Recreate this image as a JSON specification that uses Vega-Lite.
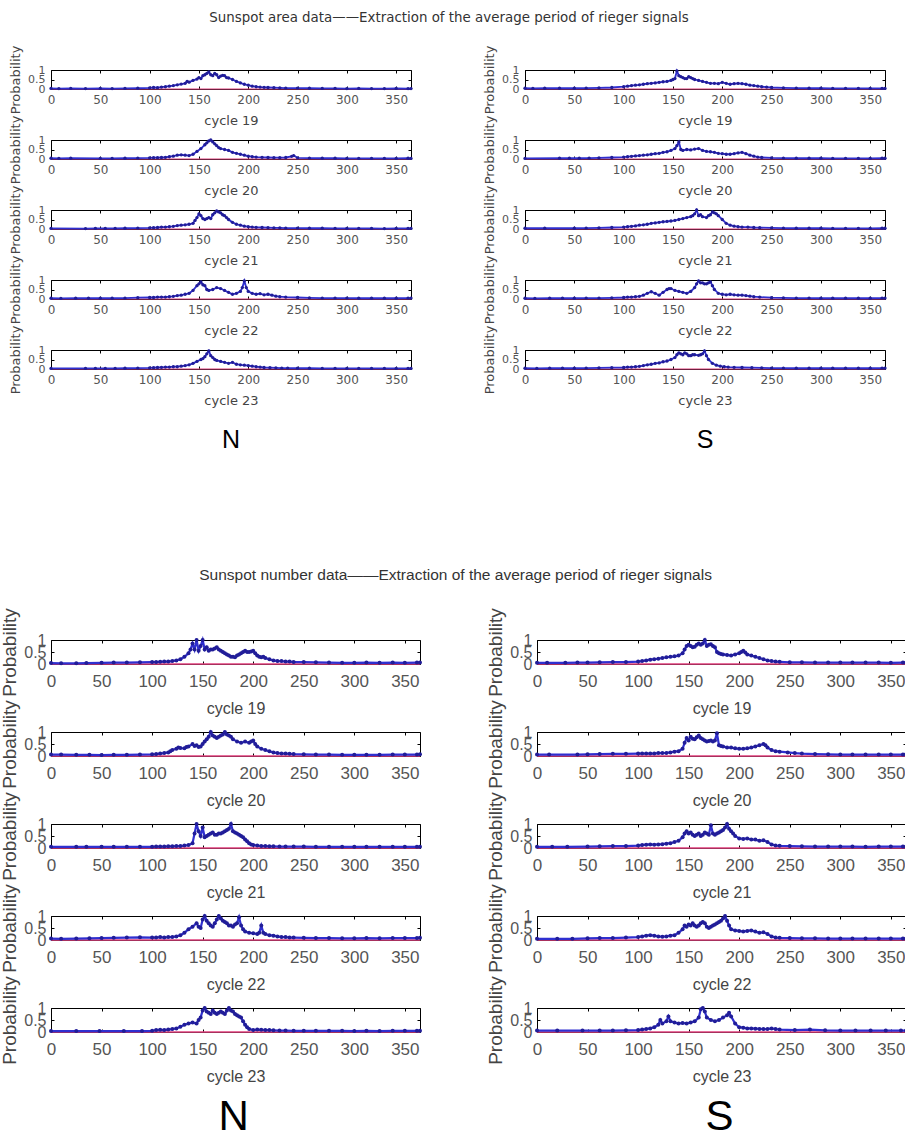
{
"$schema":"https://vega.github.io/schema/vega-lite/v6.json",
"background":"white",
"padding":{"left":0,"top":11,"right":0,"bottom":0},
"spacing":114,
"config":{
 "view":{"stroke":"#000","strokeWidth":1},
 "axis":{"grid":false,"domain":false,"tickSize":-3,"tickColor":"#000","labelFlush":false,"labelOverlap":false,"labelBound":false,"titleFontWeight":"normal","labelColor":"#555","titleColor":"#444","labelFont":"DejaVu Sans","titleFont":"DejaVu Sans","labelFontSize":12,"titleFontSize":13},
 "axisX":{"labelPadding":8,"titlePadding":9,"labelOverlap":false},
 "axisY":{"labelPadding":9,"titlePadding":5,"labelFontSize":11,"labelOverlap":false,"tickCount":5},
 "title":{"fontWeight":"normal","color":"#333"}
},
"datasets":{
"aN19":[{"x":0,"y":0.03},{"x":8,"y":0.02},{"x":20,"y":0.03},{"x":35,"y":0.02},{"x":50,"y":0.03},{"x":62,"y":0.02},{"x":75,"y":0.03},{"x":88,"y":0.04},{"x":100,"y":0.06},{"x":104,"y":0.08},{"x":108,"y":0.07},{"x":112,"y":0.1},{"x":116,"y":0.12},{"x":120,"y":0.15},{"x":124,"y":0.18},{"x":128,"y":0.22},{"x":132,"y":0.26},{"x":136,"y":0.3},{"x":138,"y":0.4},{"x":140,"y":0.36},{"x":144,"y":0.45},{"x":148,"y":0.52},{"x":150,"y":0.6},{"x":152,"y":0.55},{"x":154,"y":0.7},{"x":156,"y":0.75},{"x":158,"y":0.82},{"x":160,"y":0.9},{"x":162,"y":0.75},{"x":164,"y":0.7},{"x":166,"y":0.82},{"x":168,"y":0.75},{"x":170,"y":0.6},{"x":172,"y":0.68},{"x":174,"y":0.72},{"x":176,"y":0.7},{"x":178,"y":0.6},{"x":180,"y":0.58},{"x":184,"y":0.5},{"x":188,"y":0.4},{"x":192,"y":0.32},{"x":196,"y":0.25},{"x":200,"y":0.2},{"x":204,"y":0.15},{"x":208,"y":0.12},{"x":212,"y":0.1},{"x":216,"y":0.09},{"x":220,"y":0.08},{"x":226,"y":0.07},{"x":232,"y":0.06},{"x":238,"y":0.05},{"x":250,"y":0.05},{"x":262,"y":0.04},{"x":275,"y":0.03},{"x":288,"y":0.03},{"x":300,"y":0.02},{"x":312,"y":0.03},{"x":325,"y":0.02},{"x":338,"y":0.02},{"x":350,"y":0.03},{"x":362,"y":0.02},{"x":365,"y":0.02}],
"aN20":[{"x":0,"y":0.04},{"x":8,"y":0.03},{"x":20,"y":0.04},{"x":50,"y":0.03},{"x":62,"y":0.03},{"x":75,"y":0.04},{"x":88,"y":0.05},{"x":100,"y":0.06},{"x":104,"y":0.07},{"x":108,"y":0.07},{"x":112,"y":0.08},{"x":116,"y":0.09},{"x":120,"y":0.12},{"x":124,"y":0.15},{"x":128,"y":0.2},{"x":132,"y":0.22},{"x":136,"y":0.2},{"x":140,"y":0.18},{"x":144,"y":0.25},{"x":148,"y":0.4},{"x":152,"y":0.55},{"x":156,"y":0.75},{"x":158,"y":0.85},{"x":160,"y":0.95},{"x":162,"y":1.0},{"x":164,"y":0.9},{"x":166,"y":0.8},{"x":168,"y":0.7},{"x":170,"y":0.6},{"x":172,"y":0.55},{"x":176,"y":0.5},{"x":180,"y":0.45},{"x":184,"y":0.35},{"x":188,"y":0.3},{"x":192,"y":0.25},{"x":196,"y":0.2},{"x":200,"y":0.15},{"x":204,"y":0.12},{"x":208,"y":0.1},{"x":214,"y":0.09},{"x":220,"y":0.08},{"x":226,"y":0.07},{"x":232,"y":0.07},{"x":238,"y":0.08},{"x":244,"y":0.14},{"x":246,"y":0.18},{"x":250,"y":0.06},{"x":262,"y":0.05},{"x":275,"y":0.04},{"x":288,"y":0.04},{"x":300,"y":0.03},{"x":312,"y":0.03},{"x":325,"y":0.03},{"x":338,"y":0.03},{"x":350,"y":0.03},{"x":362,"y":0.04},{"x":365,"y":0.03}],
"aN21":[{"x":0,"y":0.03},{"x":35,"y":0.02},{"x":45,"y":0.03},{"x":55,"y":0.03},{"x":65,"y":0.03},{"x":75,"y":0.04},{"x":88,"y":0.05},{"x":100,"y":0.06},{"x":104,"y":0.07},{"x":108,"y":0.08},{"x":112,"y":0.1},{"x":116,"y":0.1},{"x":120,"y":0.12},{"x":124,"y":0.14},{"x":128,"y":0.18},{"x":132,"y":0.2},{"x":136,"y":0.22},{"x":140,"y":0.25},{"x":144,"y":0.3},{"x":146,"y":0.45},{"x":148,"y":0.6},{"x":150,"y":0.8},{"x":152,"y":0.7},{"x":154,"y":0.55},{"x":156,"y":0.5},{"x":158,"y":0.55},{"x":160,"y":0.6},{"x":162,"y":0.55},{"x":164,"y":0.75},{"x":166,"y":0.85},{"x":168,"y":0.95},{"x":170,"y":0.9},{"x":172,"y":0.85},{"x":174,"y":0.75},{"x":176,"y":0.7},{"x":178,"y":0.6},{"x":180,"y":0.5},{"x":184,"y":0.35},{"x":188,"y":0.25},{"x":192,"y":0.2},{"x":196,"y":0.15},{"x":200,"y":0.12},{"x":204,"y":0.1},{"x":208,"y":0.09},{"x":214,"y":0.08},{"x":220,"y":0.07},{"x":226,"y":0.06},{"x":232,"y":0.06},{"x":238,"y":0.05},{"x":250,"y":0.05},{"x":262,"y":0.04},{"x":275,"y":0.04},{"x":288,"y":0.03},{"x":300,"y":0.03},{"x":312,"y":0.03},{"x":325,"y":0.03},{"x":338,"y":0.02},{"x":350,"y":0.03},{"x":362,"y":0.03},{"x":365,"y":0.03}],
"aN22":[{"x":0,"y":0.04},{"x":10,"y":0.03},{"x":25,"y":0.04},{"x":38,"y":0.04},{"x":50,"y":0.04},{"x":62,"y":0.04},{"x":75,"y":0.05},{"x":88,"y":0.07},{"x":100,"y":0.08},{"x":104,"y":0.08},{"x":108,"y":0.1},{"x":112,"y":0.1},{"x":116,"y":0.1},{"x":120,"y":0.12},{"x":124,"y":0.14},{"x":128,"y":0.18},{"x":132,"y":0.2},{"x":136,"y":0.25},{"x":140,"y":0.3},{"x":144,"y":0.45},{"x":148,"y":0.7},{"x":150,"y":0.8},{"x":152,"y":0.9},{"x":154,"y":0.75},{"x":156,"y":0.7},{"x":158,"y":0.5},{"x":160,"y":0.45},{"x":164,"y":0.5},{"x":168,"y":0.6},{"x":172,"y":0.55},{"x":176,"y":0.45},{"x":180,"y":0.35},{"x":184,"y":0.25},{"x":188,"y":0.3},{"x":192,"y":0.4},{"x":194,"y":0.6},{"x":196,"y":0.95},{"x":198,"y":0.6},{"x":200,"y":0.4},{"x":204,"y":0.3},{"x":208,"y":0.25},{"x":212,"y":0.28},{"x":216,"y":0.22},{"x":220,"y":0.25},{"x":224,"y":0.2},{"x":228,"y":0.15},{"x":232,"y":0.12},{"x":238,"y":0.1},{"x":250,"y":0.08},{"x":262,"y":0.06},{"x":275,"y":0.05},{"x":288,"y":0.05},{"x":300,"y":0.05},{"x":312,"y":0.04},{"x":325,"y":0.04},{"x":338,"y":0.04},{"x":350,"y":0.04},{"x":362,"y":0.05},{"x":365,"y":0.05}],
"aN23":[{"x":0,"y":0.03},{"x":35,"y":0.03},{"x":45,"y":0.03},{"x":55,"y":0.03},{"x":65,"y":0.03},{"x":75,"y":0.04},{"x":88,"y":0.05},{"x":100,"y":0.06},{"x":104,"y":0.07},{"x":108,"y":0.08},{"x":112,"y":0.09},{"x":116,"y":0.1},{"x":120,"y":0.1},{"x":124,"y":0.12},{"x":128,"y":0.12},{"x":132,"y":0.15},{"x":136,"y":0.18},{"x":140,"y":0.22},{"x":144,"y":0.3},{"x":148,"y":0.4},{"x":152,"y":0.5},{"x":154,"y":0.55},{"x":156,"y":0.65},{"x":158,"y":0.8},{"x":160,"y":0.95},{"x":162,"y":0.7},{"x":164,"y":0.6},{"x":166,"y":0.5},{"x":168,"y":0.45},{"x":172,"y":0.4},{"x":176,"y":0.35},{"x":180,"y":0.3},{"x":184,"y":0.35},{"x":188,"y":0.25},{"x":192,"y":0.22},{"x":196,"y":0.2},{"x":200,"y":0.18},{"x":204,"y":0.15},{"x":208,"y":0.12},{"x":212,"y":0.1},{"x":216,"y":0.08},{"x":222,"y":0.07},{"x":228,"y":0.06},{"x":234,"y":0.05},{"x":240,"y":0.05},{"x":250,"y":0.04},{"x":262,"y":0.04},{"x":275,"y":0.03},{"x":288,"y":0.03},{"x":300,"y":0.03},{"x":312,"y":0.03},{"x":325,"y":0.03},{"x":338,"y":0.03},{"x":350,"y":0.03},{"x":362,"y":0.03},{"x":365,"y":0.03}],
"aS19":[{"x":0,"y":0.04},{"x":8,"y":0.03},{"x":20,"y":0.04},{"x":35,"y":0.04},{"x":50,"y":0.04},{"x":62,"y":0.05},{"x":75,"y":0.06},{"x":88,"y":0.08},{"x":100,"y":0.12},{"x":104,"y":0.15},{"x":108,"y":0.18},{"x":112,"y":0.2},{"x":116,"y":0.22},{"x":120,"y":0.25},{"x":124,"y":0.28},{"x":128,"y":0.3},{"x":132,"y":0.32},{"x":136,"y":0.35},{"x":140,"y":0.38},{"x":144,"y":0.4},{"x":148,"y":0.45},{"x":150,"y":0.5},{"x":152,"y":0.55},{"x":154,"y":0.95},{"x":156,"y":0.7},{"x":158,"y":0.65},{"x":160,"y":0.6},{"x":162,"y":0.55},{"x":164,"y":0.55},{"x":166,"y":0.65},{"x":168,"y":0.6},{"x":170,"y":0.55},{"x":172,"y":0.5},{"x":176,"y":0.45},{"x":180,"y":0.4},{"x":184,"y":0.35},{"x":188,"y":0.3},{"x":192,"y":0.3},{"x":196,"y":0.28},{"x":200,"y":0.35},{"x":204,"y":0.3},{"x":208,"y":0.25},{"x":212,"y":0.28},{"x":216,"y":0.3},{"x":220,"y":0.28},{"x":224,"y":0.25},{"x":228,"y":0.2},{"x":232,"y":0.18},{"x":236,"y":0.15},{"x":240,"y":0.12},{"x":245,"y":0.1},{"x":250,"y":0.08},{"x":262,"y":0.06},{"x":275,"y":0.05},{"x":288,"y":0.04},{"x":300,"y":0.04},{"x":312,"y":0.03},{"x":325,"y":0.03},{"x":338,"y":0.03},{"x":350,"y":0.03},{"x":362,"y":0.03},{"x":365,"y":0.03}],
"aS20":[{"x":0,"y":0.03},{"x":35,"y":0.04},{"x":45,"y":0.04},{"x":55,"y":0.04},{"x":65,"y":0.05},{"x":75,"y":0.06},{"x":88,"y":0.08},{"x":100,"y":0.1},{"x":104,"y":0.12},{"x":108,"y":0.14},{"x":112,"y":0.16},{"x":116,"y":0.18},{"x":120,"y":0.2},{"x":124,"y":0.22},{"x":128,"y":0.25},{"x":132,"y":0.28},{"x":136,"y":0.3},{"x":140,"y":0.35},{"x":144,"y":0.38},{"x":148,"y":0.45},{"x":152,"y":0.55},{"x":154,"y":0.7},{"x":156,"y":0.9},{"x":158,"y":0.5},{"x":160,"y":0.45},{"x":164,"y":0.5},{"x":168,"y":0.48},{"x":172,"y":0.52},{"x":176,"y":0.55},{"x":180,"y":0.45},{"x":184,"y":0.4},{"x":188,"y":0.38},{"x":192,"y":0.35},{"x":196,"y":0.3},{"x":200,"y":0.28},{"x":204,"y":0.25},{"x":208,"y":0.25},{"x":212,"y":0.28},{"x":216,"y":0.32},{"x":220,"y":0.35},{"x":224,"y":0.28},{"x":228,"y":0.2},{"x":232,"y":0.15},{"x":236,"y":0.1},{"x":240,"y":0.08},{"x":250,"y":0.06},{"x":262,"y":0.05},{"x":275,"y":0.04},{"x":288,"y":0.04},{"x":300,"y":0.04},{"x":312,"y":0.03},{"x":325,"y":0.03},{"x":338,"y":0.03},{"x":350,"y":0.03},{"x":362,"y":0.04},{"x":365,"y":0.04}],
"aS21":[{"x":0,"y":0.04},{"x":20,"y":0.04},{"x":50,"y":0.04},{"x":62,"y":0.05},{"x":75,"y":0.06},{"x":88,"y":0.08},{"x":100,"y":0.1},{"x":104,"y":0.12},{"x":108,"y":0.14},{"x":112,"y":0.16},{"x":116,"y":0.2},{"x":120,"y":0.22},{"x":124,"y":0.25},{"x":128,"y":0.3},{"x":132,"y":0.32},{"x":136,"y":0.35},{"x":140,"y":0.38},{"x":144,"y":0.4},{"x":148,"y":0.42},{"x":152,"y":0.45},{"x":156,"y":0.5},{"x":160,"y":0.55},{"x":164,"y":0.6},{"x":168,"y":0.65},{"x":170,"y":0.7},{"x":172,"y":0.8},{"x":174,"y":1.0},{"x":176,"y":0.7},{"x":178,"y":0.75},{"x":180,"y":0.65},{"x":184,"y":0.6},{"x":186,"y":0.7},{"x":188,"y":0.75},{"x":190,"y":0.9},{"x":192,"y":0.85},{"x":194,"y":0.8},{"x":196,"y":0.7},{"x":200,"y":0.5},{"x":204,"y":0.3},{"x":208,"y":0.2},{"x":212,"y":0.15},{"x":216,"y":0.12},{"x":220,"y":0.1},{"x":226,"y":0.1},{"x":232,"y":0.08},{"x":238,"y":0.07},{"x":250,"y":0.06},{"x":262,"y":0.05},{"x":275,"y":0.04},{"x":288,"y":0.04},{"x":300,"y":0.04},{"x":312,"y":0.03},{"x":325,"y":0.03},{"x":338,"y":0.03},{"x":350,"y":0.03},{"x":362,"y":0.04},{"x":365,"y":0.04}],
"aS22":[{"x":0,"y":0.04},{"x":10,"y":0.03},{"x":25,"y":0.04},{"x":38,"y":0.04},{"x":50,"y":0.04},{"x":62,"y":0.05},{"x":75,"y":0.05},{"x":88,"y":0.06},{"x":100,"y":0.08},{"x":104,"y":0.1},{"x":108,"y":0.1},{"x":112,"y":0.12},{"x":116,"y":0.14},{"x":120,"y":0.2},{"x":124,"y":0.3},{"x":128,"y":0.38},{"x":132,"y":0.3},{"x":136,"y":0.2},{"x":140,"y":0.35},{"x":144,"y":0.5},{"x":146,"y":0.55},{"x":148,"y":0.55},{"x":152,"y":0.45},{"x":156,"y":0.4},{"x":160,"y":0.35},{"x":164,"y":0.3},{"x":168,"y":0.4},{"x":172,"y":0.6},{"x":174,"y":0.8},{"x":176,"y":0.95},{"x":178,"y":0.85},{"x":180,"y":0.85},{"x":182,"y":0.8},{"x":184,"y":0.8},{"x":186,"y":0.85},{"x":188,"y":0.9},{"x":190,"y":0.7},{"x":192,"y":0.5},{"x":196,"y":0.3},{"x":200,"y":0.25},{"x":204,"y":0.22},{"x":208,"y":0.25},{"x":212,"y":0.22},{"x":216,"y":0.2},{"x":220,"y":0.2},{"x":224,"y":0.18},{"x":228,"y":0.15},{"x":232,"y":0.12},{"x":238,"y":0.1},{"x":250,"y":0.07},{"x":262,"y":0.06},{"x":275,"y":0.05},{"x":288,"y":0.05},{"x":300,"y":0.04},{"x":312,"y":0.04},{"x":325,"y":0.04},{"x":338,"y":0.04},{"x":350,"y":0.04},{"x":362,"y":0.05},{"x":365,"y":0.05}],
"aS23":[{"x":0,"y":0.04},{"x":12,"y":0.03},{"x":25,"y":0.04},{"x":38,"y":0.04},{"x":50,"y":0.04},{"x":62,"y":0.05},{"x":75,"y":0.06},{"x":88,"y":0.07},{"x":100,"y":0.08},{"x":104,"y":0.1},{"x":108,"y":0.1},{"x":112,"y":0.12},{"x":116,"y":0.14},{"x":120,"y":0.18},{"x":124,"y":0.22},{"x":128,"y":0.25},{"x":132,"y":0.3},{"x":136,"y":0.32},{"x":140,"y":0.38},{"x":144,"y":0.42},{"x":148,"y":0.5},{"x":152,"y":0.6},{"x":154,"y":0.75},{"x":156,"y":0.85},{"x":158,"y":0.8},{"x":160,"y":0.75},{"x":162,"y":0.85},{"x":164,"y":0.8},{"x":166,"y":0.7},{"x":168,"y":0.7},{"x":170,"y":0.75},{"x":172,"y":0.75},{"x":176,"y":0.72},{"x":178,"y":0.75},{"x":180,"y":0.8},{"x":182,"y":0.95},{"x":184,"y":0.7},{"x":186,"y":0.5},{"x":190,"y":0.3},{"x":194,"y":0.2},{"x":198,"y":0.15},{"x":202,"y":0.12},{"x":206,"y":0.1},{"x":212,"y":0.09},{"x":220,"y":0.08},{"x":230,"y":0.07},{"x":240,"y":0.06},{"x":250,"y":0.05},{"x":262,"y":0.05},{"x":275,"y":0.04},{"x":288,"y":0.04},{"x":300,"y":0.04},{"x":312,"y":0.04},{"x":325,"y":0.04},{"x":338,"y":0.04},{"x":350,"y":0.04},{"x":362,"y":0.05},{"x":365,"y":0.05}],
"nN19":[{"x":0,"y":0.04},{"x":10,"y":0.03},{"x":25,"y":0.03},{"x":35,"y":0.04},{"x":50,"y":0.05},{"x":62,"y":0.06},{"x":75,"y":0.06},{"x":88,"y":0.07},{"x":100,"y":0.08},{"x":104,"y":0.08},{"x":108,"y":0.09},{"x":112,"y":0.1},{"x":116,"y":0.1},{"x":120,"y":0.12},{"x":124,"y":0.15},{"x":128,"y":0.2},{"x":132,"y":0.3},{"x":136,"y":0.45},{"x":138,"y":0.6},{"x":140,"y":0.85},{"x":142,"y":0.6},{"x":144,"y":1.0},{"x":146,"y":0.55},{"x":148,"y":0.75},{"x":150,"y":1.0},{"x":152,"y":0.6},{"x":154,"y":0.7},{"x":156,"y":0.55},{"x":158,"y":0.6},{"x":160,"y":0.6},{"x":162,"y":0.65},{"x":164,"y":0.7},{"x":166,"y":0.6},{"x":168,"y":0.55},{"x":170,"y":0.5},{"x":172,"y":0.45},{"x":174,"y":0.4},{"x":176,"y":0.35},{"x":178,"y":0.3},{"x":180,"y":0.3},{"x":182,"y":0.28},{"x":184,"y":0.35},{"x":186,"y":0.4},{"x":188,"y":0.45},{"x":190,"y":0.5},{"x":192,"y":0.55},{"x":194,"y":0.5},{"x":196,"y":0.5},{"x":198,"y":0.52},{"x":200,"y":0.55},{"x":202,"y":0.45},{"x":204,"y":0.35},{"x":206,"y":0.3},{"x":208,"y":0.28},{"x":210,"y":0.3},{"x":212,"y":0.25},{"x":216,"y":0.2},{"x":220,"y":0.15},{"x":224,"y":0.12},{"x":228,"y":0.12},{"x":232,"y":0.1},{"x":236,"y":0.1},{"x":240,"y":0.08},{"x":250,"y":0.08},{"x":262,"y":0.07},{"x":275,"y":0.06},{"x":288,"y":0.05},{"x":300,"y":0.05},{"x":312,"y":0.06},{"x":325,"y":0.05},{"x":338,"y":0.06},{"x":350,"y":0.05},{"x":362,"y":0.06},{"x":365,"y":0.06}],
"nN20":[{"x":0,"y":0.06},{"x":10,"y":0.06},{"x":25,"y":0.05},{"x":38,"y":0.05},{"x":50,"y":0.04},{"x":62,"y":0.05},{"x":75,"y":0.05},{"x":88,"y":0.06},{"x":100,"y":0.07},{"x":104,"y":0.08},{"x":108,"y":0.1},{"x":112,"y":0.12},{"x":116,"y":0.15},{"x":118,"y":0.2},{"x":120,"y":0.25},{"x":124,"y":0.3},{"x":126,"y":0.35},{"x":128,"y":0.33},{"x":132,"y":0.32},{"x":134,"y":0.38},{"x":136,"y":0.4},{"x":140,"y":0.5},{"x":142,"y":0.42},{"x":144,"y":0.45},{"x":146,"y":0.38},{"x":148,"y":0.4},{"x":150,"y":0.5},{"x":152,"y":0.6},{"x":154,"y":0.7},{"x":156,"y":0.8},{"x":158,"y":1.0},{"x":160,"y":0.85},{"x":162,"y":0.8},{"x":164,"y":0.75},{"x":166,"y":0.8},{"x":168,"y":0.85},{"x":170,"y":0.9},{"x":172,"y":1.0},{"x":174,"y":0.9},{"x":176,"y":0.85},{"x":178,"y":0.8},{"x":180,"y":0.7},{"x":184,"y":0.6},{"x":188,"y":0.55},{"x":192,"y":0.6},{"x":196,"y":0.55},{"x":198,"y":0.6},{"x":200,"y":0.65},{"x":202,"y":0.5},{"x":204,"y":0.4},{"x":208,"y":0.3},{"x":212,"y":0.25},{"x":216,"y":0.2},{"x":220,"y":0.15},{"x":224,"y":0.12},{"x":228,"y":0.1},{"x":232,"y":0.1},{"x":236,"y":0.09},{"x":240,"y":0.08},{"x":250,"y":0.07},{"x":262,"y":0.06},{"x":275,"y":0.06},{"x":288,"y":0.05},{"x":300,"y":0.05},{"x":312,"y":0.05},{"x":325,"y":0.05},{"x":338,"y":0.06},{"x":350,"y":0.06},{"x":362,"y":0.06},{"x":365,"y":0.07}],
"nN21":[{"x":0,"y":0.05},{"x":25,"y":0.05},{"x":35,"y":0.05},{"x":50,"y":0.05},{"x":62,"y":0.05},{"x":75,"y":0.05},{"x":88,"y":0.05},{"x":100,"y":0.05},{"x":104,"y":0.06},{"x":108,"y":0.06},{"x":112,"y":0.06},{"x":116,"y":0.07},{"x":120,"y":0.07},{"x":124,"y":0.08},{"x":128,"y":0.08},{"x":132,"y":0.1},{"x":136,"y":0.12},{"x":140,"y":0.2},{"x":142,"y":0.6},{"x":144,"y":1.0},{"x":146,"y":0.7},{"x":148,"y":0.5},{"x":150,"y":0.85},{"x":152,"y":0.45},{"x":154,"y":0.5},{"x":156,"y":0.55},{"x":158,"y":0.6},{"x":160,"y":0.65},{"x":162,"y":0.55},{"x":164,"y":0.55},{"x":166,"y":0.6},{"x":168,"y":0.6},{"x":170,"y":0.65},{"x":172,"y":0.7},{"x":174,"y":0.75},{"x":176,"y":0.8},{"x":178,"y":1.0},{"x":180,"y":0.7},{"x":182,"y":0.65},{"x":184,"y":0.6},{"x":186,"y":0.55},{"x":188,"y":0.5},{"x":190,"y":0.45},{"x":192,"y":0.35},{"x":194,"y":0.28},{"x":196,"y":0.2},{"x":198,"y":0.15},{"x":200,"y":0.12},{"x":204,"y":0.1},{"x":208,"y":0.08},{"x":212,"y":0.08},{"x":216,"y":0.07},{"x":220,"y":0.07},{"x":226,"y":0.06},{"x":232,"y":0.06},{"x":240,"y":0.06},{"x":250,"y":0.06},{"x":262,"y":0.05},{"x":275,"y":0.05},{"x":288,"y":0.05},{"x":300,"y":0.05},{"x":312,"y":0.05},{"x":325,"y":0.05},{"x":338,"y":0.05},{"x":350,"y":0.05},{"x":362,"y":0.05},{"x":365,"y":0.05}],
"nN22":[{"x":0,"y":0.06},{"x":10,"y":0.05},{"x":25,"y":0.06},{"x":38,"y":0.07},{"x":50,"y":0.08},{"x":62,"y":0.09},{"x":75,"y":0.1},{"x":88,"y":0.11},{"x":100,"y":0.1},{"x":104,"y":0.1},{"x":108,"y":0.12},{"x":112,"y":0.1},{"x":116,"y":0.12},{"x":120,"y":0.12},{"x":124,"y":0.15},{"x":128,"y":0.2},{"x":132,"y":0.3},{"x":136,"y":0.45},{"x":140,"y":0.55},{"x":144,"y":0.7},{"x":146,"y":0.55},{"x":148,"y":0.5},{"x":150,"y":0.85},{"x":152,"y":1.0},{"x":154,"y":0.8},{"x":156,"y":0.7},{"x":158,"y":0.6},{"x":160,"y":0.55},{"x":162,"y":0.7},{"x":164,"y":0.85},{"x":166,"y":1.0},{"x":168,"y":0.9},{"x":170,"y":0.8},{"x":172,"y":0.75},{"x":174,"y":0.7},{"x":176,"y":0.6},{"x":178,"y":0.6},{"x":180,"y":0.55},{"x":182,"y":0.65},{"x":184,"y":0.7},{"x":186,"y":0.95},{"x":188,"y":0.6},{"x":190,"y":0.45},{"x":192,"y":0.35},{"x":196,"y":0.3},{"x":200,"y":0.28},{"x":204,"y":0.25},{"x":206,"y":0.3},{"x":208,"y":0.6},{"x":210,"y":0.3},{"x":212,"y":0.25},{"x":216,"y":0.2},{"x":220,"y":0.18},{"x":224,"y":0.15},{"x":228,"y":0.12},{"x":232,"y":0.12},{"x":236,"y":0.1},{"x":240,"y":0.1},{"x":250,"y":0.09},{"x":262,"y":0.08},{"x":275,"y":0.08},{"x":288,"y":0.07},{"x":300,"y":0.07},{"x":312,"y":0.08},{"x":325,"y":0.07},{"x":338,"y":0.08},{"x":350,"y":0.08},{"x":362,"y":0.08},{"x":365,"y":0.09}],
"nN23":[{"x":0,"y":0.04},{"x":25,"y":0.04},{"x":48,"y":0.04},{"x":72,"y":0.04},{"x":90,"y":0.04},{"x":100,"y":0.05},{"x":104,"y":0.08},{"x":108,"y":0.09},{"x":112,"y":0.08},{"x":116,"y":0.1},{"x":120,"y":0.12},{"x":124,"y":0.15},{"x":128,"y":0.22},{"x":132,"y":0.3},{"x":136,"y":0.35},{"x":140,"y":0.4},{"x":144,"y":0.35},{"x":146,"y":0.5},{"x":148,"y":0.6},{"x":150,"y":0.9},{"x":152,"y":1.0},{"x":154,"y":0.85},{"x":156,"y":0.8},{"x":158,"y":0.75},{"x":160,"y":0.9},{"x":162,"y":0.8},{"x":164,"y":0.75},{"x":166,"y":0.8},{"x":168,"y":0.85},{"x":170,"y":0.8},{"x":172,"y":0.75},{"x":174,"y":0.9},{"x":176,"y":1.0},{"x":178,"y":0.9},{"x":180,"y":0.85},{"x":182,"y":0.75},{"x":184,"y":0.7},{"x":186,"y":0.65},{"x":188,"y":0.6},{"x":190,"y":0.45},{"x":192,"y":0.3},{"x":194,"y":0.2},{"x":196,"y":0.12},{"x":200,"y":0.08},{"x":204,"y":0.1},{"x":208,"y":0.09},{"x":212,"y":0.08},{"x":216,"y":0.08},{"x":220,"y":0.07},{"x":226,"y":0.06},{"x":232,"y":0.06},{"x":240,"y":0.05},{"x":250,"y":0.05},{"x":262,"y":0.05},{"x":275,"y":0.05},{"x":288,"y":0.05},{"x":300,"y":0.04},{"x":312,"y":0.05},{"x":325,"y":0.04},{"x":338,"y":0.05},{"x":350,"y":0.05},{"x":362,"y":0.05},{"x":365,"y":0.05}],
"nS19":[{"x":0,"y":0.05},{"x":10,"y":0.05},{"x":28,"y":0.05},{"x":40,"y":0.06},{"x":50,"y":0.06},{"x":62,"y":0.07},{"x":75,"y":0.08},{"x":88,"y":0.08},{"x":100,"y":0.1},{"x":104,"y":0.12},{"x":108,"y":0.15},{"x":112,"y":0.18},{"x":116,"y":0.2},{"x":120,"y":0.22},{"x":124,"y":0.25},{"x":128,"y":0.28},{"x":132,"y":0.3},{"x":136,"y":0.32},{"x":140,"y":0.35},{"x":144,"y":0.45},{"x":146,"y":0.6},{"x":148,"y":0.75},{"x":150,"y":0.8},{"x":152,"y":0.75},{"x":154,"y":0.7},{"x":156,"y":0.72},{"x":158,"y":0.8},{"x":160,"y":0.85},{"x":162,"y":0.8},{"x":164,"y":0.85},{"x":166,"y":1.0},{"x":168,"y":0.75},{"x":170,"y":0.8},{"x":172,"y":0.82},{"x":174,"y":0.75},{"x":176,"y":0.7},{"x":178,"y":0.5},{"x":180,"y":0.45},{"x":182,"y":0.42},{"x":184,"y":0.4},{"x":188,"y":0.38},{"x":192,"y":0.35},{"x":196,"y":0.4},{"x":200,"y":0.45},{"x":202,"y":0.5},{"x":204,"y":0.55},{"x":206,"y":0.48},{"x":208,"y":0.4},{"x":212,"y":0.35},{"x":216,"y":0.3},{"x":220,"y":0.25},{"x":224,"y":0.2},{"x":228,"y":0.15},{"x":232,"y":0.12},{"x":236,"y":0.1},{"x":240,"y":0.09},{"x":250,"y":0.07},{"x":262,"y":0.07},{"x":275,"y":0.06},{"x":288,"y":0.06},{"x":300,"y":0.06},{"x":312,"y":0.06},{"x":325,"y":0.06},{"x":338,"y":0.06},{"x":350,"y":0.05},{"x":362,"y":0.06},{"x":365,"y":0.06}],
"nS20":[{"x":0,"y":0.06},{"x":12,"y":0.06},{"x":40,"y":0.06},{"x":50,"y":0.07},{"x":62,"y":0.08},{"x":75,"y":0.09},{"x":88,"y":0.09},{"x":100,"y":0.1},{"x":104,"y":0.1},{"x":108,"y":0.1},{"x":112,"y":0.1},{"x":116,"y":0.1},{"x":120,"y":0.12},{"x":124,"y":0.12},{"x":128,"y":0.13},{"x":132,"y":0.15},{"x":136,"y":0.18},{"x":140,"y":0.2},{"x":144,"y":0.3},{"x":146,"y":0.55},{"x":148,"y":0.75},{"x":150,"y":0.65},{"x":152,"y":0.8},{"x":154,"y":0.72},{"x":156,"y":0.7},{"x":158,"y":0.78},{"x":160,"y":0.85},{"x":162,"y":0.75},{"x":164,"y":0.7},{"x":166,"y":0.65},{"x":168,"y":0.6},{"x":170,"y":0.62},{"x":172,"y":0.65},{"x":174,"y":0.6},{"x":176,"y":0.65},{"x":178,"y":0.95},{"x":180,"y":0.45},{"x":182,"y":0.42},{"x":184,"y":0.4},{"x":188,"y":0.35},{"x":192,"y":0.35},{"x":196,"y":0.32},{"x":200,"y":0.3},{"x":204,"y":0.3},{"x":208,"y":0.32},{"x":212,"y":0.35},{"x":216,"y":0.4},{"x":220,"y":0.45},{"x":224,"y":0.5},{"x":226,"y":0.45},{"x":228,"y":0.35},{"x":232,"y":0.25},{"x":236,"y":0.2},{"x":240,"y":0.18},{"x":248,"y":0.15},{"x":255,"y":0.12},{"x":262,"y":0.1},{"x":275,"y":0.08},{"x":288,"y":0.07},{"x":300,"y":0.06},{"x":312,"y":0.06},{"x":325,"y":0.06},{"x":338,"y":0.06},{"x":350,"y":0.06},{"x":362,"y":0.06},{"x":365,"y":0.07}],
"nS21":[{"x":0,"y":0.05},{"x":15,"y":0.05},{"x":30,"y":0.05},{"x":50,"y":0.06},{"x":62,"y":0.07},{"x":75,"y":0.08},{"x":88,"y":0.08},{"x":100,"y":0.1},{"x":104,"y":0.12},{"x":108,"y":0.14},{"x":112,"y":0.15},{"x":116,"y":0.14},{"x":120,"y":0.15},{"x":124,"y":0.16},{"x":128,"y":0.18},{"x":132,"y":0.2},{"x":136,"y":0.25},{"x":140,"y":0.3},{"x":144,"y":0.45},{"x":146,"y":0.6},{"x":148,"y":0.7},{"x":150,"y":0.6},{"x":152,"y":0.65},{"x":154,"y":0.55},{"x":156,"y":0.5},{"x":158,"y":0.55},{"x":160,"y":0.6},{"x":162,"y":0.5},{"x":164,"y":0.55},{"x":166,"y":0.65},{"x":168,"y":0.6},{"x":170,"y":0.55},{"x":172,"y":0.95},{"x":174,"y":0.6},{"x":176,"y":0.55},{"x":178,"y":0.6},{"x":180,"y":0.65},{"x":182,"y":0.7},{"x":184,"y":0.75},{"x":186,"y":0.85},{"x":188,"y":1.0},{"x":190,"y":0.8},{"x":192,"y":0.7},{"x":194,"y":0.6},{"x":196,"y":0.5},{"x":200,"y":0.4},{"x":204,"y":0.38},{"x":208,"y":0.4},{"x":212,"y":0.35},{"x":216,"y":0.35},{"x":220,"y":0.3},{"x":224,"y":0.32},{"x":228,"y":0.25},{"x":232,"y":0.15},{"x":236,"y":0.1},{"x":240,"y":0.09},{"x":250,"y":0.08},{"x":262,"y":0.07},{"x":275,"y":0.06},{"x":288,"y":0.06},{"x":300,"y":0.06},{"x":312,"y":0.06},{"x":325,"y":0.05},{"x":338,"y":0.06},{"x":350,"y":0.06},{"x":362,"y":0.06},{"x":365,"y":0.06}],
"nS22":[{"x":0,"y":0.05},{"x":20,"y":0.05},{"x":35,"y":0.05},{"x":50,"y":0.07},{"x":62,"y":0.08},{"x":75,"y":0.08},{"x":88,"y":0.1},{"x":100,"y":0.12},{"x":104,"y":0.15},{"x":108,"y":0.18},{"x":112,"y":0.2},{"x":116,"y":0.18},{"x":120,"y":0.15},{"x":124,"y":0.14},{"x":128,"y":0.15},{"x":132,"y":0.18},{"x":136,"y":0.2},{"x":140,"y":0.3},{"x":144,"y":0.45},{"x":146,"y":0.6},{"x":148,"y":0.55},{"x":150,"y":0.65},{"x":152,"y":0.6},{"x":154,"y":0.7},{"x":156,"y":0.6},{"x":158,"y":0.55},{"x":160,"y":0.6},{"x":162,"y":0.7},{"x":164,"y":0.75},{"x":166,"y":0.7},{"x":168,"y":0.55},{"x":170,"y":0.5},{"x":172,"y":0.55},{"x":174,"y":0.6},{"x":176,"y":0.65},{"x":178,"y":0.7},{"x":180,"y":0.75},{"x":182,"y":0.8},{"x":184,"y":0.9},{"x":186,"y":1.0},{"x":188,"y":0.8},{"x":190,"y":0.6},{"x":192,"y":0.45},{"x":196,"y":0.4},{"x":200,"y":0.38},{"x":204,"y":0.35},{"x":208,"y":0.38},{"x":212,"y":0.4},{"x":216,"y":0.35},{"x":220,"y":0.3},{"x":224,"y":0.32},{"x":228,"y":0.25},{"x":232,"y":0.15},{"x":236,"y":0.1},{"x":240,"y":0.09},{"x":250,"y":0.08},{"x":262,"y":0.07},{"x":275,"y":0.07},{"x":288,"y":0.06},{"x":300,"y":0.06},{"x":312,"y":0.06},{"x":325,"y":0.06},{"x":338,"y":0.06},{"x":350,"y":0.06},{"x":362,"y":0.06},{"x":365,"y":0.06}],
"nS23":[{"x":0,"y":0.06},{"x":20,"y":0.06},{"x":45,"y":0.06},{"x":62,"y":0.06},{"x":75,"y":0.06},{"x":88,"y":0.07},{"x":100,"y":0.08},{"x":104,"y":0.1},{"x":108,"y":0.12},{"x":112,"y":0.15},{"x":116,"y":0.2},{"x":120,"y":0.3},{"x":122,"y":0.5},{"x":124,"y":0.35},{"x":128,"y":0.45},{"x":130,"y":0.65},{"x":132,"y":0.45},{"x":136,"y":0.4},{"x":140,"y":0.35},{"x":144,"y":0.38},{"x":148,"y":0.35},{"x":152,"y":0.4},{"x":156,"y":0.45},{"x":160,"y":0.6},{"x":162,"y":0.95},{"x":164,"y":1.0},{"x":166,"y":0.85},{"x":168,"y":0.6},{"x":172,"y":0.5},{"x":176,"y":0.45},{"x":180,"y":0.5},{"x":184,"y":0.6},{"x":188,"y":0.7},{"x":190,"y":0.8},{"x":192,"y":0.65},{"x":196,"y":0.35},{"x":200,"y":0.2},{"x":204,"y":0.18},{"x":208,"y":0.15},{"x":212,"y":0.15},{"x":216,"y":0.14},{"x":220,"y":0.13},{"x":224,"y":0.12},{"x":228,"y":0.12},{"x":232,"y":0.15},{"x":236,"y":0.12},{"x":240,"y":0.1},{"x":255,"y":0.08},{"x":270,"y":0.1},{"x":285,"y":0.07},{"x":300,"y":0.06},{"x":315,"y":0.06},{"x":330,"y":0.06},{"x":345,"y":0.06},{"x":360,"y":0.06},{"x":365,"y":0.06}]
},
"vconcat":[
{
 "title":{"text":"Sunspot area data——Extraction of the average period of rieger signals","font":"DejaVu Sans","fontSize":13.4,"anchor":"middle","offset":20},
 "spacing":67,
 "hconcat":[
  {"bounds":"flush","spacing":51,"title":{"text":"N","orient":"bottom","anchor":"middle","dx":19,"font":"Liberation Sans","fontSize":25,"color":"#000","offset":20},
   "vconcat":[
    {"width":360,"height":19,"data":{"name":"aN19"},"resolve":{"axis":{"x":"independent","y":"independent"}},"layer":[{"data":{"values":[{"v":0}]},"mark":{"type":"rule","color":"#e0407c","strokeWidth":1.2},"encoding":{"y":{"field":"v","type":"quantitative","axis":null}}},{"mark":{"type":"line","color":"#2f2fd0","strokeWidth":1.8,"point":{"filled":true,"size":11,"color":"#211d98"}},"encoding":{"x":{"field":"x","type":"quantitative","scale":{"domain":[0,365],"nice":false},"axis":{"title":"cycle 19","values":[0,50,100,150,200,250,300,350],"labelOverlap":false}},"y":{"field":"y","type":"quantitative","scale":{"domain":[0,1],"nice":false},"axis":{"title":"Probability","values":[0,0.5,1],"tickCount":5,"format":"~g","labelOverlap":false}}}},{"mark":{"type":"point","opacity":0},"encoding":{"x":{"field":"x","type":"quantitative","axis":{"orient":"top","labels":false,"title":null,"values":[0,50,100,150,200,250,300,350]}},"y":{"field":"y","type":"quantitative","axis":{"orient":"right","labels":false,"title":null,"values":[0,0.5,1],"tickCount":5}}}}]},
    {"width":360,"height":19,"data":{"name":"aN20"},"resolve":{"axis":{"x":"independent","y":"independent"}},"layer":[{"data":{"values":[{"v":0}]},"mark":{"type":"rule","color":"#e0407c","strokeWidth":1.2},"encoding":{"y":{"field":"v","type":"quantitative","axis":null}}},{"mark":{"type":"line","color":"#2f2fd0","strokeWidth":1.8,"point":{"filled":true,"size":11,"color":"#211d98"}},"encoding":{"x":{"field":"x","type":"quantitative","scale":{"domain":[0,365],"nice":false},"axis":{"title":"cycle 20","values":[0,50,100,150,200,250,300,350],"labelOverlap":false}},"y":{"field":"y","type":"quantitative","scale":{"domain":[0,1],"nice":false},"axis":{"title":"Probability","values":[0,0.5,1],"tickCount":5,"format":"~g","labelOverlap":false}}}},{"mark":{"type":"point","opacity":0},"encoding":{"x":{"field":"x","type":"quantitative","axis":{"orient":"top","labels":false,"title":null,"values":[0,50,100,150,200,250,300,350]}},"y":{"field":"y","type":"quantitative","axis":{"orient":"right","labels":false,"title":null,"values":[0,0.5,1],"tickCount":5}}}}]},
    {"width":360,"height":19,"data":{"name":"aN21"},"resolve":{"axis":{"x":"independent","y":"independent"}},"layer":[{"data":{"values":[{"v":0}]},"mark":{"type":"rule","color":"#e0407c","strokeWidth":1.2},"encoding":{"y":{"field":"v","type":"quantitative","axis":null}}},{"mark":{"type":"line","color":"#2f2fd0","strokeWidth":1.8,"point":{"filled":true,"size":11,"color":"#211d98"}},"encoding":{"x":{"field":"x","type":"quantitative","scale":{"domain":[0,365],"nice":false},"axis":{"title":"cycle 21","values":[0,50,100,150,200,250,300,350],"labelOverlap":false}},"y":{"field":"y","type":"quantitative","scale":{"domain":[0,1],"nice":false},"axis":{"title":"Probability","values":[0,0.5,1],"tickCount":5,"format":"~g","labelOverlap":false}}}},{"mark":{"type":"point","opacity":0},"encoding":{"x":{"field":"x","type":"quantitative","axis":{"orient":"top","labels":false,"title":null,"values":[0,50,100,150,200,250,300,350]}},"y":{"field":"y","type":"quantitative","axis":{"orient":"right","labels":false,"title":null,"values":[0,0.5,1],"tickCount":5}}}}]},
    {"width":360,"height":19,"data":{"name":"aN22"},"resolve":{"axis":{"x":"independent","y":"independent"}},"layer":[{"data":{"values":[{"v":0}]},"mark":{"type":"rule","color":"#e0407c","strokeWidth":1.2},"encoding":{"y":{"field":"v","type":"quantitative","axis":null}}},{"mark":{"type":"line","color":"#2f2fd0","strokeWidth":1.8,"point":{"filled":true,"size":11,"color":"#211d98"}},"encoding":{"x":{"field":"x","type":"quantitative","scale":{"domain":[0,365],"nice":false},"axis":{"title":"cycle 22","values":[0,50,100,150,200,250,300,350],"labelOverlap":false}},"y":{"field":"y","type":"quantitative","scale":{"domain":[0,1],"nice":false},"axis":{"title":"Probability","values":[0,0.5,1],"tickCount":5,"format":"~g","labelOverlap":false}}}},{"mark":{"type":"point","opacity":0},"encoding":{"x":{"field":"x","type":"quantitative","axis":{"orient":"top","labels":false,"title":null,"values":[0,50,100,150,200,250,300,350]}},"y":{"field":"y","type":"quantitative","axis":{"orient":"right","labels":false,"title":null,"values":[0,0.5,1],"tickCount":5}}}}]},
    {"width":360,"height":19,"data":{"name":"aN23"},"resolve":{"axis":{"x":"independent","y":"independent"}},"layer":[{"data":{"values":[{"v":0}]},"mark":{"type":"rule","color":"#e0407c","strokeWidth":1.2},"encoding":{"y":{"field":"v","type":"quantitative","axis":null}}},{"mark":{"type":"line","color":"#2f2fd0","strokeWidth":1.8,"point":{"filled":true,"size":11,"color":"#211d98"}},"encoding":{"x":{"field":"x","type":"quantitative","scale":{"domain":[0,365],"nice":false},"axis":{"title":"cycle 23","values":[0,50,100,150,200,250,300,350],"labelOverlap":false}},"y":{"field":"y","type":"quantitative","scale":{"domain":[0,1],"nice":false},"axis":{"title":"Probability","values":[0,0.5,1],"tickCount":5,"format":"~g","labelOverlap":false}}}},{"mark":{"type":"point","opacity":0},"encoding":{"x":{"field":"x","type":"quantitative","axis":{"orient":"top","labels":false,"title":null,"values":[0,50,100,150,200,250,300,350]}},"y":{"field":"y","type":"quantitative","axis":{"orient":"right","labels":false,"title":null,"values":[0,0.5,1],"tickCount":5}}}}]}
   ]},
  {"bounds":"flush","spacing":51,"title":{"text":"S","orient":"bottom","anchor":"middle","dx":19,"font":"Liberation Sans","fontSize":25,"color":"#000","offset":20},
   "vconcat":[
    {"width":360,"height":19,"data":{"name":"aS19"},"resolve":{"axis":{"x":"independent","y":"independent"}},"layer":[{"data":{"values":[{"v":0}]},"mark":{"type":"rule","color":"#e0407c","strokeWidth":1.2},"encoding":{"y":{"field":"v","type":"quantitative","axis":null}}},{"mark":{"type":"line","color":"#2f2fd0","strokeWidth":1.8,"point":{"filled":true,"size":11,"color":"#211d98"}},"encoding":{"x":{"field":"x","type":"quantitative","scale":{"domain":[0,365],"nice":false},"axis":{"title":"cycle 19","values":[0,50,100,150,200,250,300,350],"labelOverlap":false}},"y":{"field":"y","type":"quantitative","scale":{"domain":[0,1],"nice":false},"axis":{"title":"Probability","values":[0,0.5,1],"tickCount":5,"format":"~g","labelOverlap":false}}}},{"mark":{"type":"point","opacity":0},"encoding":{"x":{"field":"x","type":"quantitative","axis":{"orient":"top","labels":false,"title":null,"values":[0,50,100,150,200,250,300,350]}},"y":{"field":"y","type":"quantitative","axis":{"orient":"right","labels":false,"title":null,"values":[0,0.5,1],"tickCount":5}}}}]},
    {"width":360,"height":19,"data":{"name":"aS20"},"resolve":{"axis":{"x":"independent","y":"independent"}},"layer":[{"data":{"values":[{"v":0}]},"mark":{"type":"rule","color":"#e0407c","strokeWidth":1.2},"encoding":{"y":{"field":"v","type":"quantitative","axis":null}}},{"mark":{"type":"line","color":"#2f2fd0","strokeWidth":1.8,"point":{"filled":true,"size":11,"color":"#211d98"}},"encoding":{"x":{"field":"x","type":"quantitative","scale":{"domain":[0,365],"nice":false},"axis":{"title":"cycle 20","values":[0,50,100,150,200,250,300,350],"labelOverlap":false}},"y":{"field":"y","type":"quantitative","scale":{"domain":[0,1],"nice":false},"axis":{"title":"Probability","values":[0,0.5,1],"tickCount":5,"format":"~g","labelOverlap":false}}}},{"mark":{"type":"point","opacity":0},"encoding":{"x":{"field":"x","type":"quantitative","axis":{"orient":"top","labels":false,"title":null,"values":[0,50,100,150,200,250,300,350]}},"y":{"field":"y","type":"quantitative","axis":{"orient":"right","labels":false,"title":null,"values":[0,0.5,1],"tickCount":5}}}}]},
    {"width":360,"height":19,"data":{"name":"aS21"},"resolve":{"axis":{"x":"independent","y":"independent"}},"layer":[{"data":{"values":[{"v":0}]},"mark":{"type":"rule","color":"#e0407c","strokeWidth":1.2},"encoding":{"y":{"field":"v","type":"quantitative","axis":null}}},{"mark":{"type":"line","color":"#2f2fd0","strokeWidth":1.8,"point":{"filled":true,"size":11,"color":"#211d98"}},"encoding":{"x":{"field":"x","type":"quantitative","scale":{"domain":[0,365],"nice":false},"axis":{"title":"cycle 21","values":[0,50,100,150,200,250,300,350],"labelOverlap":false}},"y":{"field":"y","type":"quantitative","scale":{"domain":[0,1],"nice":false},"axis":{"title":"Probability","values":[0,0.5,1],"tickCount":5,"format":"~g","labelOverlap":false}}}},{"mark":{"type":"point","opacity":0},"encoding":{"x":{"field":"x","type":"quantitative","axis":{"orient":"top","labels":false,"title":null,"values":[0,50,100,150,200,250,300,350]}},"y":{"field":"y","type":"quantitative","axis":{"orient":"right","labels":false,"title":null,"values":[0,0.5,1],"tickCount":5}}}}]},
    {"width":360,"height":19,"data":{"name":"aS22"},"resolve":{"axis":{"x":"independent","y":"independent"}},"layer":[{"data":{"values":[{"v":0}]},"mark":{"type":"rule","color":"#e0407c","strokeWidth":1.2},"encoding":{"y":{"field":"v","type":"quantitative","axis":null}}},{"mark":{"type":"line","color":"#2f2fd0","strokeWidth":1.8,"point":{"filled":true,"size":11,"color":"#211d98"}},"encoding":{"x":{"field":"x","type":"quantitative","scale":{"domain":[0,365],"nice":false},"axis":{"title":"cycle 22","values":[0,50,100,150,200,250,300,350],"labelOverlap":false}},"y":{"field":"y","type":"quantitative","scale":{"domain":[0,1],"nice":false},"axis":{"title":"Probability","values":[0,0.5,1],"tickCount":5,"format":"~g","labelOverlap":false}}}},{"mark":{"type":"point","opacity":0},"encoding":{"x":{"field":"x","type":"quantitative","axis":{"orient":"top","labels":false,"title":null,"values":[0,50,100,150,200,250,300,350]}},"y":{"field":"y","type":"quantitative","axis":{"orient":"right","labels":false,"title":null,"values":[0,0.5,1],"tickCount":5}}}}]},
    {"width":360,"height":19,"data":{"name":"aS23"},"resolve":{"axis":{"x":"independent","y":"independent"}},"layer":[{"data":{"values":[{"v":0}]},"mark":{"type":"rule","color":"#e0407c","strokeWidth":1.2},"encoding":{"y":{"field":"v","type":"quantitative","axis":null}}},{"mark":{"type":"line","color":"#2f2fd0","strokeWidth":1.8,"point":{"filled":true,"size":11,"color":"#211d98"}},"encoding":{"x":{"field":"x","type":"quantitative","scale":{"domain":[0,365],"nice":false},"axis":{"title":"cycle 23","values":[0,50,100,150,200,250,300,350],"labelOverlap":false}},"y":{"field":"y","type":"quantitative","scale":{"domain":[0,1],"nice":false},"axis":{"title":"Probability","values":[0,0.5,1],"tickCount":5,"format":"~g","labelOverlap":false}}}},{"mark":{"type":"point","opacity":0},"encoding":{"x":{"field":"x","type":"quantitative","axis":{"orient":"top","labels":false,"title":null,"values":[0,50,100,150,200,250,300,350]}},"y":{"field":"y","type":"quantitative","axis":{"orient":"right","labels":false,"title":null,"values":[0,0.5,1],"tickCount":5}}}}]}
   ]}
 ]
},
{
 "title":{"text":"Sunspot number data——Extraction of the average period of rieger signals","font":"Liberation Sans","fontSize":15.5,"anchor":"middle","offset":24},
 "spacing":61,
 "hconcat":[
  {"bounds":"flush","spacing":68,"title":{"text":"N","orient":"bottom","anchor":"middle","dx":21,"font":"Liberation Sans","fontSize":42,"color":"#000","offset":12},
   "vconcat":[
    {"width":369,"height":24,"data":{"name":"nN19"},"resolve":{"axis":{"x":"independent","y":"independent"}},"layer":[{"data":{"values":[{"v":0}]},"mark":{"type":"rule","color":"#e0407c","strokeWidth":1.5},"encoding":{"y":{"field":"v","type":"quantitative","axis":null}}},{"mark":{"type":"line","color":"#2f2fd0","strokeWidth":2.2,"point":{"filled":true,"size":16,"color":"#211d98"}},"encoding":{"x":{"field":"x","type":"quantitative","scale":{"domain":[0,365],"nice":false},"axis":{"title":"cycle 19","values":[0,50,100,150,200,250,300,350],"labelOverlap":false,"labelFont":"Liberation Sans","labelFontSize":17,"titleFont":"Liberation Sans","titleFontSize":16,"labelPadding":12,"titlePadding":11}},"y":{"field":"y","type":"quantitative","scale":{"domain":[0,1],"nice":false},"axis":{"title":"Probability","values":[0,0.5,1],"tickCount":5,"format":"~g","labelOverlap":false,"labelFont":"Liberation Sans","labelFontSize":16,"titleFont":"Liberation Sans","titleFontSize":19,"labelPadding":8,"titlePadding":4}}}},{"mark":{"type":"point","opacity":0},"encoding":{"x":{"field":"x","type":"quantitative","axis":{"orient":"top","labels":false,"title":null,"values":[0,50,100,150,200,250,300,350]}},"y":{"field":"y","type":"quantitative","axis":{"orient":"right","labels":false,"title":null,"values":[0,0.5,1],"tickCount":5}}}}]},
    {"width":369,"height":24,"data":{"name":"nN20"},"resolve":{"axis":{"x":"independent","y":"independent"}},"layer":[{"data":{"values":[{"v":0}]},"mark":{"type":"rule","color":"#e0407c","strokeWidth":1.5},"encoding":{"y":{"field":"v","type":"quantitative","axis":null}}},{"mark":{"type":"line","color":"#2f2fd0","strokeWidth":2.2,"point":{"filled":true,"size":16,"color":"#211d98"}},"encoding":{"x":{"field":"x","type":"quantitative","scale":{"domain":[0,365],"nice":false},"axis":{"title":"cycle 20","values":[0,50,100,150,200,250,300,350],"labelOverlap":false,"labelFont":"Liberation Sans","labelFontSize":17,"titleFont":"Liberation Sans","titleFontSize":16,"labelPadding":12,"titlePadding":11}},"y":{"field":"y","type":"quantitative","scale":{"domain":[0,1],"nice":false},"axis":{"title":"Probability","values":[0,0.5,1],"tickCount":5,"format":"~g","labelOverlap":false,"labelFont":"Liberation Sans","labelFontSize":16,"titleFont":"Liberation Sans","titleFontSize":19,"labelPadding":8,"titlePadding":4}}}},{"mark":{"type":"point","opacity":0},"encoding":{"x":{"field":"x","type":"quantitative","axis":{"orient":"top","labels":false,"title":null,"values":[0,50,100,150,200,250,300,350]}},"y":{"field":"y","type":"quantitative","axis":{"orient":"right","labels":false,"title":null,"values":[0,0.5,1],"tickCount":5}}}}]},
    {"width":369,"height":24,"data":{"name":"nN21"},"resolve":{"axis":{"x":"independent","y":"independent"}},"layer":[{"data":{"values":[{"v":0}]},"mark":{"type":"rule","color":"#e0407c","strokeWidth":1.5},"encoding":{"y":{"field":"v","type":"quantitative","axis":null}}},{"mark":{"type":"line","color":"#2f2fd0","strokeWidth":2.2,"point":{"filled":true,"size":16,"color":"#211d98"}},"encoding":{"x":{"field":"x","type":"quantitative","scale":{"domain":[0,365],"nice":false},"axis":{"title":"cycle 21","values":[0,50,100,150,200,250,300,350],"labelOverlap":false,"labelFont":"Liberation Sans","labelFontSize":17,"titleFont":"Liberation Sans","titleFontSize":16,"labelPadding":12,"titlePadding":11}},"y":{"field":"y","type":"quantitative","scale":{"domain":[0,1],"nice":false},"axis":{"title":"Probability","values":[0,0.5,1],"tickCount":5,"format":"~g","labelOverlap":false,"labelFont":"Liberation Sans","labelFontSize":16,"titleFont":"Liberation Sans","titleFontSize":19,"labelPadding":8,"titlePadding":4}}}},{"mark":{"type":"point","opacity":0},"encoding":{"x":{"field":"x","type":"quantitative","axis":{"orient":"top","labels":false,"title":null,"values":[0,50,100,150,200,250,300,350]}},"y":{"field":"y","type":"quantitative","axis":{"orient":"right","labels":false,"title":null,"values":[0,0.5,1],"tickCount":5}}}}]},
    {"width":369,"height":24,"data":{"name":"nN22"},"resolve":{"axis":{"x":"independent","y":"independent"}},"layer":[{"data":{"values":[{"v":0}]},"mark":{"type":"rule","color":"#e0407c","strokeWidth":1.5},"encoding":{"y":{"field":"v","type":"quantitative","axis":null}}},{"mark":{"type":"line","color":"#2f2fd0","strokeWidth":2.2,"point":{"filled":true,"size":16,"color":"#211d98"}},"encoding":{"x":{"field":"x","type":"quantitative","scale":{"domain":[0,365],"nice":false},"axis":{"title":"cycle 22","values":[0,50,100,150,200,250,300,350],"labelOverlap":false,"labelFont":"Liberation Sans","labelFontSize":17,"titleFont":"Liberation Sans","titleFontSize":16,"labelPadding":12,"titlePadding":11}},"y":{"field":"y","type":"quantitative","scale":{"domain":[0,1],"nice":false},"axis":{"title":"Probability","values":[0,0.5,1],"tickCount":5,"format":"~g","labelOverlap":false,"labelFont":"Liberation Sans","labelFontSize":16,"titleFont":"Liberation Sans","titleFontSize":19,"labelPadding":8,"titlePadding":4}}}},{"mark":{"type":"point","opacity":0},"encoding":{"x":{"field":"x","type":"quantitative","axis":{"orient":"top","labels":false,"title":null,"values":[0,50,100,150,200,250,300,350]}},"y":{"field":"y","type":"quantitative","axis":{"orient":"right","labels":false,"title":null,"values":[0,0.5,1],"tickCount":5}}}}]},
    {"width":369,"height":24,"data":{"name":"nN23"},"resolve":{"axis":{"x":"independent","y":"independent"}},"layer":[{"data":{"values":[{"v":0}]},"mark":{"type":"rule","color":"#e0407c","strokeWidth":1.5},"encoding":{"y":{"field":"v","type":"quantitative","axis":null}}},{"mark":{"type":"line","color":"#2f2fd0","strokeWidth":2.2,"point":{"filled":true,"size":16,"color":"#211d98"}},"encoding":{"x":{"field":"x","type":"quantitative","scale":{"domain":[0,365],"nice":false},"axis":{"title":"cycle 23","values":[0,50,100,150,200,250,300,350],"labelOverlap":false,"labelFont":"Liberation Sans","labelFontSize":17,"titleFont":"Liberation Sans","titleFontSize":16,"labelPadding":12,"titlePadding":11}},"y":{"field":"y","type":"quantitative","scale":{"domain":[0,1],"nice":false},"axis":{"title":"Probability","values":[0,0.5,1],"tickCount":5,"format":"~g","labelOverlap":false,"labelFont":"Liberation Sans","labelFontSize":16,"titleFont":"Liberation Sans","titleFontSize":19,"labelPadding":8,"titlePadding":4}}}},{"mark":{"type":"point","opacity":0},"encoding":{"x":{"field":"x","type":"quantitative","axis":{"orient":"top","labels":false,"title":null,"values":[0,50,100,150,200,250,300,350]}},"y":{"field":"y","type":"quantitative","axis":{"orient":"right","labels":false,"title":null,"values":[0,0.5,1],"tickCount":5}}}}]}
   ]},
  {"bounds":"flush","spacing":68,"title":{"text":"S","orient":"bottom","anchor":"middle","dx":21,"font":"Liberation Sans","fontSize":42,"color":"#000","offset":12},
   "vconcat":[
    {"width":369,"height":24,"data":{"name":"nS19"},"resolve":{"axis":{"x":"independent","y":"independent"}},"layer":[{"data":{"values":[{"v":0}]},"mark":{"type":"rule","color":"#e0407c","strokeWidth":1.5},"encoding":{"y":{"field":"v","type":"quantitative","axis":null}}},{"mark":{"type":"line","color":"#2f2fd0","strokeWidth":2.2,"point":{"filled":true,"size":16,"color":"#211d98"}},"encoding":{"x":{"field":"x","type":"quantitative","scale":{"domain":[0,365],"nice":false},"axis":{"title":"cycle 19","values":[0,50,100,150,200,250,300,350],"labelOverlap":false,"labelFont":"Liberation Sans","labelFontSize":17,"titleFont":"Liberation Sans","titleFontSize":16,"labelPadding":12,"titlePadding":11}},"y":{"field":"y","type":"quantitative","scale":{"domain":[0,1],"nice":false},"axis":{"title":"Probability","values":[0,0.5,1],"tickCount":5,"format":"~g","labelOverlap":false,"labelFont":"Liberation Sans","labelFontSize":16,"titleFont":"Liberation Sans","titleFontSize":19,"labelPadding":8,"titlePadding":4}}}},{"mark":{"type":"point","opacity":0},"encoding":{"x":{"field":"x","type":"quantitative","axis":{"orient":"top","labels":false,"title":null,"values":[0,50,100,150,200,250,300,350]}},"y":{"field":"y","type":"quantitative","axis":{"orient":"right","labels":false,"title":null,"values":[0,0.5,1],"tickCount":5}}}}]},
    {"width":369,"height":24,"data":{"name":"nS20"},"resolve":{"axis":{"x":"independent","y":"independent"}},"layer":[{"data":{"values":[{"v":0}]},"mark":{"type":"rule","color":"#e0407c","strokeWidth":1.5},"encoding":{"y":{"field":"v","type":"quantitative","axis":null}}},{"mark":{"type":"line","color":"#2f2fd0","strokeWidth":2.2,"point":{"filled":true,"size":16,"color":"#211d98"}},"encoding":{"x":{"field":"x","type":"quantitative","scale":{"domain":[0,365],"nice":false},"axis":{"title":"cycle 20","values":[0,50,100,150,200,250,300,350],"labelOverlap":false,"labelFont":"Liberation Sans","labelFontSize":17,"titleFont":"Liberation Sans","titleFontSize":16,"labelPadding":12,"titlePadding":11}},"y":{"field":"y","type":"quantitative","scale":{"domain":[0,1],"nice":false},"axis":{"title":"Probability","values":[0,0.5,1],"tickCount":5,"format":"~g","labelOverlap":false,"labelFont":"Liberation Sans","labelFontSize":16,"titleFont":"Liberation Sans","titleFontSize":19,"labelPadding":8,"titlePadding":4}}}},{"mark":{"type":"point","opacity":0},"encoding":{"x":{"field":"x","type":"quantitative","axis":{"orient":"top","labels":false,"title":null,"values":[0,50,100,150,200,250,300,350]}},"y":{"field":"y","type":"quantitative","axis":{"orient":"right","labels":false,"title":null,"values":[0,0.5,1],"tickCount":5}}}}]},
    {"width":369,"height":24,"data":{"name":"nS21"},"resolve":{"axis":{"x":"independent","y":"independent"}},"layer":[{"data":{"values":[{"v":0}]},"mark":{"type":"rule","color":"#e0407c","strokeWidth":1.5},"encoding":{"y":{"field":"v","type":"quantitative","axis":null}}},{"mark":{"type":"line","color":"#2f2fd0","strokeWidth":2.2,"point":{"filled":true,"size":16,"color":"#211d98"}},"encoding":{"x":{"field":"x","type":"quantitative","scale":{"domain":[0,365],"nice":false},"axis":{"title":"cycle 21","values":[0,50,100,150,200,250,300,350],"labelOverlap":false,"labelFont":"Liberation Sans","labelFontSize":17,"titleFont":"Liberation Sans","titleFontSize":16,"labelPadding":12,"titlePadding":11}},"y":{"field":"y","type":"quantitative","scale":{"domain":[0,1],"nice":false},"axis":{"title":"Probability","values":[0,0.5,1],"tickCount":5,"format":"~g","labelOverlap":false,"labelFont":"Liberation Sans","labelFontSize":16,"titleFont":"Liberation Sans","titleFontSize":19,"labelPadding":8,"titlePadding":4}}}},{"mark":{"type":"point","opacity":0},"encoding":{"x":{"field":"x","type":"quantitative","axis":{"orient":"top","labels":false,"title":null,"values":[0,50,100,150,200,250,300,350]}},"y":{"field":"y","type":"quantitative","axis":{"orient":"right","labels":false,"title":null,"values":[0,0.5,1],"tickCount":5}}}}]},
    {"width":369,"height":24,"data":{"name":"nS22"},"resolve":{"axis":{"x":"independent","y":"independent"}},"layer":[{"data":{"values":[{"v":0}]},"mark":{"type":"rule","color":"#e0407c","strokeWidth":1.5},"encoding":{"y":{"field":"v","type":"quantitative","axis":null}}},{"mark":{"type":"line","color":"#2f2fd0","strokeWidth":2.2,"point":{"filled":true,"size":16,"color":"#211d98"}},"encoding":{"x":{"field":"x","type":"quantitative","scale":{"domain":[0,365],"nice":false},"axis":{"title":"cycle 22","values":[0,50,100,150,200,250,300,350],"labelOverlap":false,"labelFont":"Liberation Sans","labelFontSize":17,"titleFont":"Liberation Sans","titleFontSize":16,"labelPadding":12,"titlePadding":11}},"y":{"field":"y","type":"quantitative","scale":{"domain":[0,1],"nice":false},"axis":{"title":"Probability","values":[0,0.5,1],"tickCount":5,"format":"~g","labelOverlap":false,"labelFont":"Liberation Sans","labelFontSize":16,"titleFont":"Liberation Sans","titleFontSize":19,"labelPadding":8,"titlePadding":4}}}},{"mark":{"type":"point","opacity":0},"encoding":{"x":{"field":"x","type":"quantitative","axis":{"orient":"top","labels":false,"title":null,"values":[0,50,100,150,200,250,300,350]}},"y":{"field":"y","type":"quantitative","axis":{"orient":"right","labels":false,"title":null,"values":[0,0.5,1],"tickCount":5}}}}]},
    {"width":369,"height":24,"data":{"name":"nS23"},"resolve":{"axis":{"x":"independent","y":"independent"}},"layer":[{"data":{"values":[{"v":0}]},"mark":{"type":"rule","color":"#e0407c","strokeWidth":1.5},"encoding":{"y":{"field":"v","type":"quantitative","axis":null}}},{"mark":{"type":"line","color":"#2f2fd0","strokeWidth":2.2,"point":{"filled":true,"size":16,"color":"#211d98"}},"encoding":{"x":{"field":"x","type":"quantitative","scale":{"domain":[0,365],"nice":false},"axis":{"title":"cycle 23","values":[0,50,100,150,200,250,300,350],"labelOverlap":false,"labelFont":"Liberation Sans","labelFontSize":17,"titleFont":"Liberation Sans","titleFontSize":16,"labelPadding":12,"titlePadding":11}},"y":{"field":"y","type":"quantitative","scale":{"domain":[0,1],"nice":false},"axis":{"title":"Probability","values":[0,0.5,1],"tickCount":5,"format":"~g","labelOverlap":false,"labelFont":"Liberation Sans","labelFontSize":16,"titleFont":"Liberation Sans","titleFontSize":19,"labelPadding":8,"titlePadding":4}}}},{"mark":{"type":"point","opacity":0},"encoding":{"x":{"field":"x","type":"quantitative","axis":{"orient":"top","labels":false,"title":null,"values":[0,50,100,150,200,250,300,350]}},"y":{"field":"y","type":"quantitative","axis":{"orient":"right","labels":false,"title":null,"values":[0,0.5,1],"tickCount":5}}}}]}
   ]}
 ]
}
]
}
